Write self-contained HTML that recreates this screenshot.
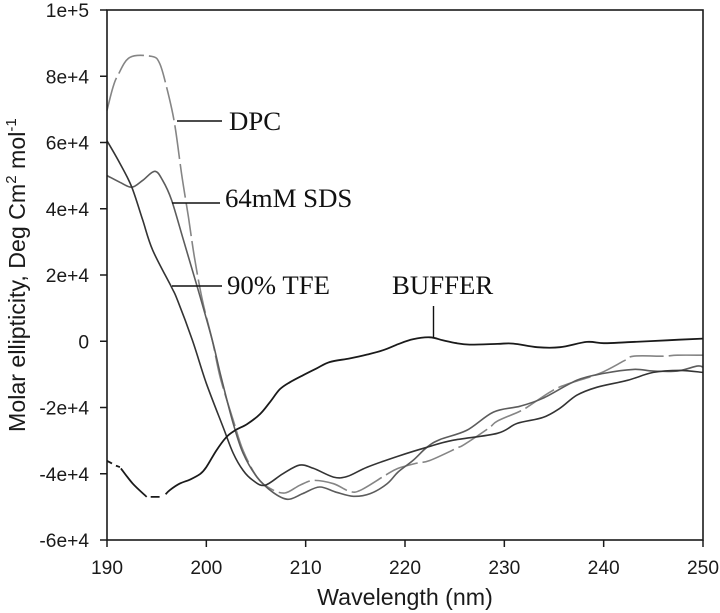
<!DOCTYPE html>
<html lang="en">
<head>
<meta charset="utf-8">
<title>Molar ellipticity chart</title>
<style>
html,body{margin:0;padding:0;background:#fff;width:720px;height:613px;overflow:hidden}
svg{display:block}
.tick{font-family:"Liberation Sans",sans-serif;font-size:19.2px;fill:#1a1a1a}
.title{font-family:"Liberation Sans",sans-serif;font-size:23.2px;fill:#1a1a1a}
.note{font-family:"Liberation Serif",serif;font-size:26.8px;fill:#111}
</style>
</head>
<body>
<svg id="chart" xmlns="http://www.w3.org/2000/svg" width="720" height="613" viewBox="0 0 720 613">
  <g id="series"></g>
  <g id="axes"></g>
  <text class="title" x="405" y="605" text-anchor="middle">Wavelength (nm)</text>
  <text class="title" transform="translate(25 432) rotate(-90)">Molar ellipticity, Deg Cm<tspan font-size="15" dy="-9">2</tspan><tspan dy="9"> mol</tspan><tspan font-size="15" dy="-9">-1</tspan></text>
  <line x1="177" y1="121" x2="222" y2="121" stroke="#111" stroke-width="1.4"/>
  <text class="note" x="229" y="130">DPC</text>
  <line x1="172" y1="203" x2="220" y2="203" stroke="#111" stroke-width="1.4"/>
  <text class="note" x="225" y="207">64mM SDS</text>
  <line x1="172" y1="286" x2="222" y2="286" stroke="#111" stroke-width="1.4"/>
  <text class="note" x="227" y="294">90% TFE</text>
  <line x1="433.500" y1="306" x2="433.500" y2="338" stroke="#111" stroke-width="1.4"/>
  <text class="note" x="392" y="294">BUFFER</text>
</svg>
<script>
const xTicks = [190, 200, 210, 220, 230, 240, 250];
const yTicks = [-60000, -40000, -20000, 0, 20000, 40000, 60000, 80000, 100000];
const yTickLabels = ["-6e+4", "-4e+4", "-2e+4", "0", "2e+4", "4e+4", "6e+4", "8e+4", "1e+5"];

const bufferNm = [190, 190.5, null, 190.9, 191.3, null, 191.4, 192.6, 194, null, 194.4, 195.3, null, 195.9, 196.3, 197.3, 198.4, 199.4, 200, 201, 202, 202.9, 204.1, 205.4, 206.4, 207.4, 208.4, 209.7, 211.1, 212.4, 214.4, 216.2, 217.8, 219.3, 220.8, 222.5, 223.8, 225.2, 226.5, 229.3, 230.9, 233.3, 235.6, 238.3, 240, 242.4, 246.4, 250];
const bufferVal = [-36100, -36900, null, -37600, -38000, null, -38400, -43000, -47000, null, -47000, -47000, null, -46200, -45000, -43000, -41700, -40000, -38000, -33000, -29000, -26900, -25000, -22000, -18400, -14500, -12400, -10300, -8200, -6300, -5200, -4000, -2700, -900, 600, 1200, 300, -600, -1000, -800, -700, -1800, -1800, -200, -600, -300, 300, 800];

const tfeNm = [190, 191.3, 192.5, 193.6, 194.6, 196.5, 197.1, 198.6, 200, 201.7, 202.7, 203.7, 204.7, 205.9, 207.7, 209.4, 210.8, 212.8, 214.2, 216.2, 219.3, 222.2, 224.8, 229.3, 231.3, 233.9, 235.6, 237.3, 239.3, 242.4, 245, 247.7, 250];
const tfeVal = [60500, 53700, 46500, 36500, 27500, 16300, 12400, 300, -12700, -26000, -33800, -39000, -42000, -43500, -40000, -37400, -38400, -41000, -40800, -38000, -34700, -32000, -29900, -27800, -24800, -23000, -20200, -16300, -13900, -11800, -9400, -8800, -9400];

const sdsNm = [190, 191.3, 192.5, 193.6, 194.8, 195.6, 196.5, 197.7, 199.1, 200.6, 201.4, 202.7, 203.7, 205.1, 206.7, 208.2, 209.7, 211.4, 213.1, 214.8, 216.5, 218.2, 219.3, 220.8, 222.2, 223.5, 226.2, 228.9, 231.6, 233.9, 237.3, 240, 243, 245, 247.4, 249.4, 250];
const sdsVal = [50000, 48000, 46500, 48600, 51300, 48600, 42600, 30500, 16300, 300, -9700, -24800, -33800, -41000, -45600, -47700, -46000, -44000, -45600, -46800, -46000, -43000, -39500, -36000, -32000, -29700, -26900, -21400, -19600, -17200, -11800, -9700, -8500, -9000, -9000, -7500, -7800];

const dpcNm = [190, 190.6, 191.1, 192.3, 194.5, 195.3, 196, 196.8, 197.5, 198.2, 198.8, 199.6, 200.6, 201.4, 202.7, 203.7, 205.1, 206.4, 207.9, 209.4, 210.8, 212.8, 214.4, 215.5, 218, 219.3, 221.2, 222.5, 225.2, 226, 228.4, 229.3, 231.6, 232.6, 234.9, 236.6, 239.6, 242, 243, 246, 247.4, 250];
const dpcVal = [69700, 76700, 80300, 85700, 86000, 83900, 76700, 65800, 50700, 37400, 25400, 12400, 300, -10900, -23800, -33000, -41000, -44400, -45800, -43500, -42000, -43000, -45300, -45000, -40500, -38400, -36800, -36000, -32300, -31100, -26300, -24100, -21100, -19300, -14800, -12700, -9700, -6000, -4500, -4500, -4200, -4200];

const svgNS = "http://www.w3.org/2000/svg";
const plot = { left: 107, right: 703, top: 10, bottom: 540 };
function xScale(nm) { return plot.left + (nm - 190) / 60 * (plot.right - plot.left); }
function yScale(v) { return plot.bottom - (v + 60000) / 160000 * (plot.bottom - plot.top); }

function smoothRun(run) {
  let d = "M" + run[0][0].toFixed(1) + " " + run[0][1].toFixed(1);
  for (let i = 0; i < run.length - 1; i++) {
    const p0 = run[Math.max(i - 1, 0)];
    const p1 = run[i];
    const p2 = run[i + 1];
    const p3 = run[Math.min(i + 2, run.length - 1)];
    const c1x = p1[0] + (p2[0] - p0[0]) / 6;
    const c1y = p1[1] + (p2[1] - p0[1]) / 6;
    const c2x = p2[0] - (p3[0] - p1[0]) / 6;
    const c2y = p2[1] - (p3[1] - p1[1]) / 6;
    d += "C" + c1x.toFixed(1) + " " + c1y.toFixed(1) + " " + c2x.toFixed(1) + " " + c2y.toFixed(1) + " " + p2[0].toFixed(1) + " " + p2[1].toFixed(1);
  }
  return d;
}

function seriesPath(xs, ys) {
  let d = "";
  let run = [];
  for (let i = 0; i < xs.length; i++) {
    if (xs[i] === null || ys[i] === null) {
      if (run.length > 1) d += smoothRun(run);
      run = [];
      continue;
    }
    run.push([xScale(xs[i]), yScale(ys[i])]);
  }
  if (run.length > 1) d += smoothRun(run);
  return d;
}

const seriesGroup = document.getElementById("series");
const axesGroup = document.getElementById("axes");

const dpcLine = document.createElementNS(svgNS, "path");


dpcLine.setAttribute("d", seriesPath(dpcNm, dpcVal));
dpcLine.setAttribute("fill", "none");
dpcLine.setAttribute("stroke", "#858585");
dpcLine.setAttribute("stroke-width", "1.6");
dpcLine.setAttribute("stroke-dasharray", "34 5");
seriesGroup.appendChild(dpcLine);

const sdsLine = document.createElementNS(svgNS, "path");


sdsLine.setAttribute("d", seriesPath(sdsNm, sdsVal));
sdsLine.setAttribute("fill", "none");
sdsLine.setAttribute("stroke", "#5c5c5c");
sdsLine.setAttribute("stroke-width", "1.6");
seriesGroup.appendChild(sdsLine);

const tfeLine = document.createElementNS(svgNS, "path");


tfeLine.setAttribute("d", seriesPath(tfeNm, tfeVal));
tfeLine.setAttribute("fill", "none");
tfeLine.setAttribute("stroke", "#333333");
tfeLine.setAttribute("stroke-width", "1.6");
seriesGroup.appendChild(tfeLine);

const bufferLine = document.createElementNS(svgNS, "path");


bufferLine.setAttribute("d", seriesPath(bufferNm, bufferVal));
bufferLine.setAttribute("fill", "none");
bufferLine.setAttribute("stroke", "#1a1a1a");
bufferLine.setAttribute("stroke-width", "1.8");
seriesGroup.appendChild(bufferLine);

const frame = document.createElementNS(svgNS, "rect");


frame.setAttribute("x", plot.left);
frame.setAttribute("y", plot.top);
frame.setAttribute("width", plot.right - plot.left);
frame.setAttribute("height", plot.bottom - plot.top);
frame.setAttribute("fill", "none");
frame.setAttribute("stroke", "#1a1a1a");
frame.setAttribute("stroke-width", "1.6");
axesGroup.appendChild(frame);

xTicks.forEach(function (t) {
  const mark = document.createElementNS(svgNS, "line");
  
  
  mark.setAttribute("x1", xScale(t));
  mark.setAttribute("x2", xScale(t));
  mark.setAttribute("y1", plot.bottom);
  mark.setAttribute("y2", plot.bottom + 7);
  mark.setAttribute("stroke", "#1a1a1a");
  mark.setAttribute("stroke-width", "1.5");
  axesGroup.appendChild(mark);
  const label = document.createElementNS(svgNS, "text");
  
  
  label.setAttribute("class", "tick");
  label.setAttribute("x", xScale(t));
  label.setAttribute("y", plot.bottom + 34);
  label.setAttribute("text-anchor", "middle");
  label.textContent = String(t);
  axesGroup.appendChild(label);
});

yTicks.forEach(function (t, i) {
  const mark = document.createElementNS(svgNS, "line");
  
  
  mark.setAttribute("x1", plot.left - 7);
  mark.setAttribute("x2", plot.left);
  mark.setAttribute("y1", yScale(t));
  mark.setAttribute("y2", yScale(t));
  mark.setAttribute("stroke", "#1a1a1a");
  mark.setAttribute("stroke-width", "1.5");
  axesGroup.appendChild(mark);
  const label = document.createElementNS(svgNS, "text");
  
  
  label.setAttribute("class", "tick");
  label.setAttribute("x", plot.left - 18);
  label.setAttribute("y", yScale(t) + 7);
  label.setAttribute("text-anchor", "end");
  label.textContent = yTickLabels[i];
  axesGroup.appendChild(label);
});
</script>
</body>
</html>
